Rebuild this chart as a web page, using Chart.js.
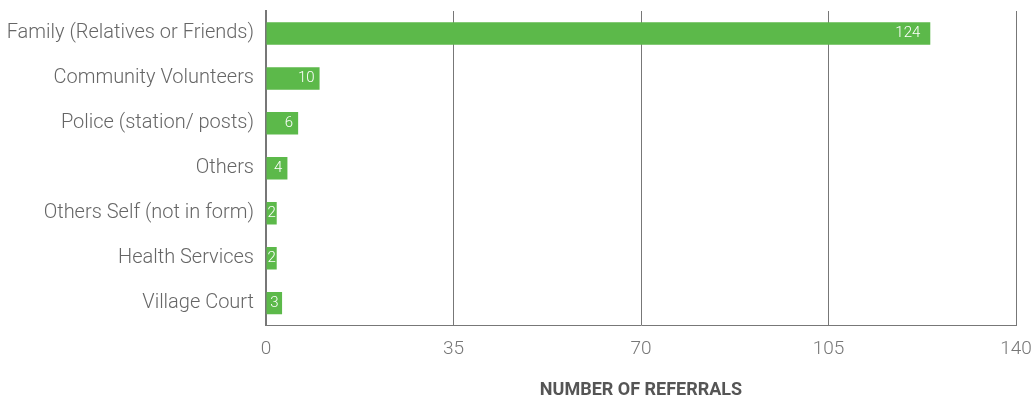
<!DOCTYPE html>
<html>
<head>
<meta charset="utf-8">
<script src="https://cdn.jsdelivr.net/npm/chart.js@4"></script>
<style>
  html, body { margin: 0; padding: 0; background: #fff; }
  #wrap { width: 1033px; height: 401px; }
</style>
</head>
<body>
<div id="wrap"><canvas id="c" width="1033" height="401"></canvas></div>
<script>
// referral sources and counts
const categories = [
  "Family (Relatives or Friends)",
  "Community Volunteers",
  "Police (station/ posts)",
  "Others",
  "Others Self (not in form)",
  "Health Services",
  "Village Court"
];
const referrals = [124, 10, 6, 4, 2, 2, 3];
const xTicks = [0, 35, 70, 105, 140];

// white value labels at the end of each bar
const barLabels = {
  id: 'barLabels',
  afterDatasetsDraw(chart) {
    const ctx = chart.ctx;
    const meta = chart.getDatasetMeta(0);
    ctx.save();
    ctx.font = '300 15px Roboto';
    ctx.fillStyle = '#fff';
    ctx.textBaseline = 'middle';
    meta.data.forEach((bar, i) => {
      const txt = String(referrals[i]);
      const w = ctx.measureText(txt).width;
      const len = bar.x - bar.base;
      if (len < w + 8) {
        ctx.textAlign = 'center';
        ctx.fillText(txt, (bar.x + bar.base) / 2, bar.y);
      } else {
        ctx.textAlign = 'right';
        ctx.fillText(txt, bar.x - (len > 100 ? 10 : 5), bar.y);
      }
    });
    ctx.restore();
  }
};

new Chart(document.getElementById('c'), {
  type: 'bar',
  data: {
    labels: categories,
    datasets: [{
      data: referrals,
      backgroundColor: '#5cb94a',
      borderWidth: 0,
      categoryPercentage: 1,
      barPercentage: 0.5
    }]
  },
  options: {
    indexAxis: 'y',
    responsive: false,
    animation: false,
    layout: { padding: { top: 11, right: 17, left: 0, bottom: 0 } },
    plugins: { legend: { display: false }, tooltip: { enabled: false } },
    scales: {
      x: {
        min: 0,
        max: 140,
        afterBuildTicks(scale) { scale.ticks = xTicks.map(v => ({ value: v })); },
        afterFit(scale) { scale.paddingLeft = 0; scale.paddingRight = 0; },
        grid: { color: '#777', lineWidth: 1, drawTicks: false },
        border: { color: '#777', width: 1 },
        ticks: { color: '#777', padding: 12, font: { family: 'Roboto', size: 19, weight: 300 } },
        title: {
          display: true,
          text: 'NUMBER OF REFERRALS',
          color: '#555',
          font: { family: 'Roboto', size: 18, weight: 'bold' },
          padding: { top: 7, bottom: 0 }
        }
      },
      y: {
        afterFit(scale) { scale.width = 266; scale.paddingTop = 0; scale.paddingBottom = 0; },
        grid: { display: false, drawTicks: false },
        border: { color: '#777', width: 2 },
        ticks: { color: '#666', padding: 12, font: { family: 'Roboto', size: 20, weight: 300 } }
      }
    }
  },
  plugins: [barLabels]
});
</script>
</body>
</html>
